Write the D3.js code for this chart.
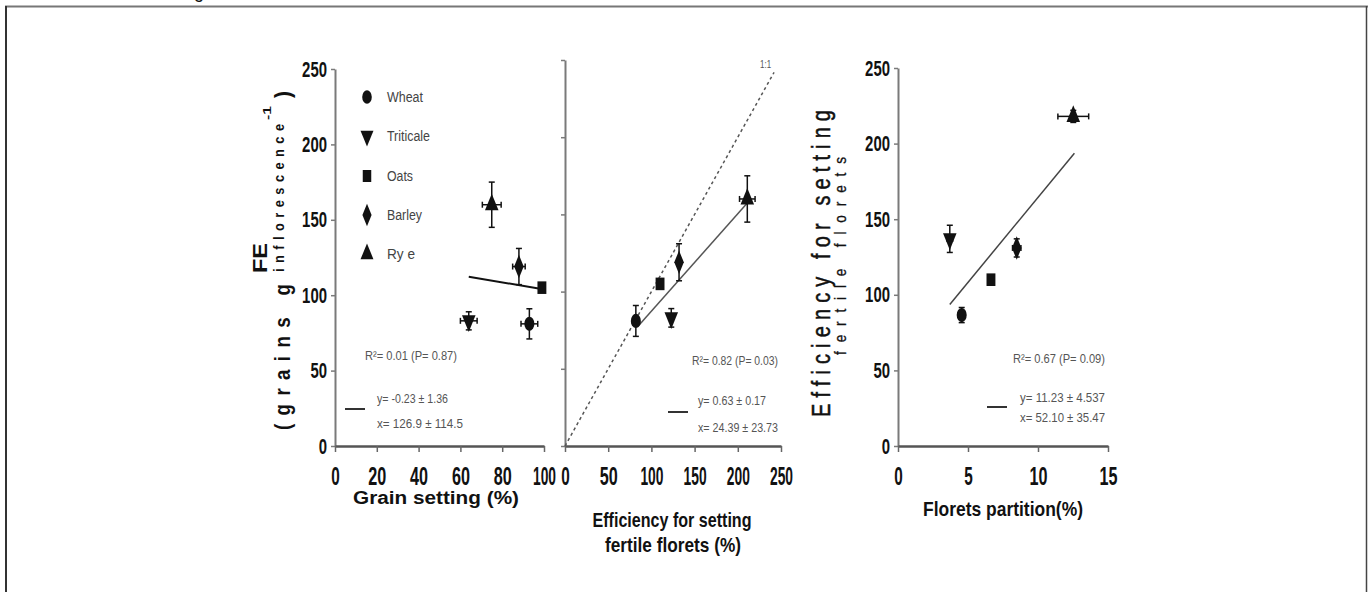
<!DOCTYPE html>
<html><head><meta charset="utf-8">
<script src="https://cdn.jsdelivr.net/npm/d3@7"></script>
<style>
html,body{margin:0;padding:0;background:#fff;}
svg{display:block;}
text{font-family:"Liberation Sans Narrow","Liberation Sans",Arial,sans-serif;}
</style></head><body>
<svg id="chart" width="1368" height="592"></svg>
<script>
// ---- data ----
const species = ["Wheat", "Triticale", "Oats", "Barley", "Rye"];

// FE (grains g inflorescence^-1), shared by the first two panels
const fe = [81, 83, 105, 119, 160];
const feErr = [10, 6, 0, 12, 15];

// Grain setting (%)
const grainSetting = [93, 64, 99, 88, 75];
const grainSettingErr = [4, 4, 0, 3, 4.5];

// Efficiency for setting fertile florets (%)
const efficiency = [82, 123, 110, 132, 211];
const efficiencyErr = [2, 2, 0, 2, 9];

// Florets partition (%) and efficiency for setting fertile florets
const floretsPartition = [4.55, 3.7, 6.64, 8.48, 12.52];
const floretsPartitionErr = [0.25, 0.2, 0, 0.3, 1.1];
const efficiencyB = [86.6, 137, 110, 131, 218];
const efficiencyBErr = [5, 9, 0, 6, 4];

// linear regressions, one per panel
const fitSlope = ["-0.23", "0.63", "11.23"];
const fitSlopeErr = ["1.36", "0.17", "4.537"];
const fitIntercept = ["126.9", "24.39", "52.10"];
const fitInterceptErr = ["114.5", "23.73", "35.47"];
const fitR2 = ["0.01", "0.82", "0.67"];
const fitP = ["0.87", "0.03", "0.09"];
const fitRange = [[64, 99.5], [84, 211], [3.7, 12.6]];

// axis ticks
const ticksY = [0, 50, 100, 150, 200, 250];
const ticksX1 = [0, 20, 40, 60, 80, 100];
const ticksX2 = [0, 50, 100, 150, 200, 250];
const ticksX3 = [0, 5, 10, 15];

// ---- drawing ----
const svg = d3.select("#chart");
const INK = "#111";

const symbolTypes = {
  Wheat: {type: d3.symbolCircle, rot: 0},
  Triticale: {type: d3.symbolTriangle, rot: 180},
  Oats: {type: d3.symbolSquare, rot: 0},
  Barley: {type: d3.symbolDiamond, rot: 0},
  Rye: {type: d3.symbolTriangle, rot: 0}
};

// text helper: optional rotation, horizontal condensing (sx) and fitted length
function txt(g, o) {
  const sx = o.sx || 1;
  const t = g.append("text")
    .attr("transform", `translate(${o.x},${o.y})` + (o.rotate ? ` rotate(${o.rotate})` : "") + (sx !== 1 ? ` scale(${sx},1)` : ""))
    .attr("text-anchor", o.anchor || "start")
    .attr("font-size", o.size)
    .attr("font-weight", o.weight || "normal")
    .attr("fill", o.fill || INK)
    .text(o.text);
  if (o.stroke) t.attr("stroke", o.fill || INK).attr("stroke-width", o.stroke);
  if (o.len) t.attr("textLength", o.len / sx).attr("lengthAdjust", o.adjust || "spacingAndGlyphs");
  return t;
}

function marker(g, name, cx, cy, size) {
  const s = symbolTypes[name];
  g.append("path")
    .attr("d", d3.symbol().type(s.type).size(size)())
    .attr("transform", `translate(${cx},${cy}) scale(0.85,1.2) rotate(${s.rot})`)
    .attr("fill", INK);
}

function drawPanel(p, i) {
  const g = svg.append("g");
  const {x, y} = p;

  // y axis
  const ya = g.append("g").attr("transform", `translate(${x.range()[0]},0)`)
    .call(d3.axisLeft(y).tickValues(ticksY).tickSize(4).tickSizeOuter(0).tickPadding(4)
      .tickFormat(p.yLabels ? d3.format("d") : () => ""));
  ya.attr("font-family", null).attr("font-size", null);
  ya.select(".domain").attr("stroke", "#7a7a7a").attr("stroke-width", 2);
  ya.selectAll(".tick line").attr("stroke", "#7a7a7a").attr("stroke-width", 1.5);
  ya.selectAll(".tick text").attr("font-size", 22).attr("font-weight", "bold").attr("fill", INK)
    .each(function(d) {
      const s = String(d);
      if (p.yLabels) d3.select(this).attr("textLength", s.length * 8.3).attr("lengthAdjust", "spacingAndGlyphs");
    });

  // x axis
  const xa = g.append("g").attr("transform", `translate(0,${y(0)})`)
    .call(d3.axisBottom(x).tickValues(p.ticksX).tickSize(6).tickSizeOuter(0).tickPadding(15));
  xa.attr("font-family", null).attr("font-size", null);
  xa.select(".domain").attr("stroke", "#555").attr("stroke-width", 2.5);
  xa.selectAll(".tick line").attr("stroke", "#666").attr("stroke-width", 1.5);
  xa.selectAll(".tick text").attr("font-size", 25).attr("font-weight", "bold").attr("fill", INK)
    .each(function(d) {
      const s = String(d);
      d3.select(this).attr("textLength", s.length === 1 ? 8.5 : s.length === 2 ? 18 : 23)
        .attr("lengthAdjust", "spacingAndGlyphs");
    });

  // reference line
  if (p.identity) {
    g.append("line")
      .attr("x1", x(0)).attr("y1", y(0)).attr("x2", x(p.identity)).attr("y2", y(p.identity))
      .attr("stroke", "#555").attr("stroke-width", 1.5).attr("stroke-dasharray", "3,3");
    txt(g, {x: x(p.identity) - 14, y: y(p.identity) - 4, text: "1:1", size: 11, fill: "#555", len: 11});
  }

  // regression line
  const slope = +fitSlope[i], icpt = +fitIntercept[i];
  const [fx0, fx1] = fitRange[i];
  g.append("line")
    .attr("x1", x(fx0)).attr("y1", y(slope * fx0 + icpt))
    .attr("x2", x(fx1)).attr("y2", y(slope * fx1 + icpt))
    .attr("stroke", p.fitColor).attr("stroke-width", p.fitWidth);

  // error bars + markers
  species.forEach((name, k) => {
    const vx = p.xs[k], vy = p.ys[k], ex = p.xe[k], ey = p.ye[k];
    const cx = x(vx), cy = y(vy);
    const eb = g.append("g").attr("stroke", INK).attr("stroke-width", 1.5);
    if (ey > 0) {
      eb.append("line").attr("x1", cx).attr("x2", cx).attr("y1", y(vy - ey)).attr("y2", y(vy + ey));
      [vy - ey, vy + ey].forEach(v => eb.append("line").attr("x1", cx - 3).attr("x2", cx + 3).attr("y1", y(v)).attr("y2", y(v)));
    }
    if (ex > 0) {
      eb.append("line").attr("y1", cy).attr("y2", cy).attr("x1", x(vx - ex)).attr("x2", x(vx + ex));
      [vx - ex, vx + ex].forEach(v => eb.append("line").attr("y1", cy - 3).attr("y2", cy + 3).attr("x1", x(v)).attr("x2", x(v)));
    }
    marker(g, name, cx, cy, 110);
  });

  // regression statistics
  const a = p.stats;
  txt(g, {x: a.x, y: a.y, text: `R\u00b2= ${fitR2[i]} (P= ${fitP[i]})`, size: 13, fill: "#555", len: a.w0});
  g.append("line").attr("x1", a.lx).attr("x2", a.lx + 20).attr("y1", a.ly).attr("y2", a.ly)
    .attr("stroke", "#333").attr("stroke-width", 2);
  txt(g, {x: a.ex, y: a.y1, text: `y= ${fitSlope[i]} \u00b1 ${fitSlopeErr[i]}`, size: 13, fill: "#555", len: a.w1});
  txt(g, {x: a.ex, y: a.y2, text: `x= ${fitIntercept[i]} \u00b1 ${fitInterceptErr[i]}`, size: 13, fill: "#555", len: a.w2});
  return g;
}

const panels = [
  {
    x: d3.scaleLinear([0, 100], [335, 544]), y: d3.scaleLinear([0, 250], [446, 69]),
    xs: grainSetting, xe: grainSettingErr, ys: fe, ye: feErr,
    ticksX: ticksX1, yLabels: true, fitColor: "#111", fitWidth: 2,
    stats: {x: 365, y: 360, w0: 92, lx: 345, ly: 409, ex: 377, y1: 403, y2: 428, w1: 71, w2: 86}
  },
  {
    x: d3.scaleLinear([0, 250], [565, 781]), y: d3.scaleLinear([0, 250], [446, 60]),
    xs: efficiency, xe: efficiencyErr, ys: fe, ye: feErr,
    ticksX: ticksX2, yLabels: false, identity: 242, fitColor: "#555", fitWidth: 1.5,
    stats: {x: 692, y: 365, w0: 86, lx: 668, ly: 412, ex: 698, y1: 405, y2: 432, w1: 68, w2: 80}
  },
  {
    x: d3.scaleLinear([0, 15], [898, 1108]), y: d3.scaleLinear([0, 250], [446, 68]),
    xs: floretsPartition, xe: floretsPartitionErr, ys: efficiencyB, ye: efficiencyBErr,
    ticksX: ticksX3, yLabels: true, fitColor: "#444", fitWidth: 1.5,
    stats: {x: 1013, y: 363, w0: 92, lx: 987, ly: 407, ex: 1020, y1: 402, y2: 422, w1: 85, w2: 85}
  }
];
panels.forEach(drawPanel);

// legend (first panel)
const legend = svg.append("g");
const legendRowY = [97, 136, 176, 215, 254];
const legendW = [36, 43, 26, 35, 28];
const legendText = ["Wheat", "Triticale", "Oats", "Barley", "Ry e"];
species.forEach((name, k) => {
  marker(legend, name, 367, legendRowY[k], 100);
  txt(legend, {x: 387, y: legendRowY[k] + 5, text: legendText[k], size: 14, fill: "#444", len: legendW[k]});
});

// axis titles
const titles = svg.append("g");
txt(titles, {x: 436, y: 504, text: "Grain setting (%)", size: 18, weight: "bold", anchor: "middle", len: 166});
txt(titles, {x: 672, y: 527, text: "Efficiency for setting", size: 21, weight: "bold", anchor: "middle", len: 159});
txt(titles, {x: 673, y: 552, text: "fertile florets (%)", size: 21, weight: "bold", anchor: "middle", len: 136});
txt(titles, {x: 1003, y: 516, text: "Florets partition(%)", size: 21, weight: "bold", anchor: "middle", len: 160});

// first panel y title
txt(titles, {x: 267, y: 258, text: "FE", size: 21, weight: "bold", anchor: "middle", rotate: -90, len: 30});
txt(titles, {x: 290, y: 430, text: "(grains g", size: 22, weight: "bold", rotate: -90, len: 146, sx: 0.85, adjust: "spacing"});
txt(titles, {x: 284, y: 272, text: "inflorescence", size: 15, weight: "bold", rotate: -90, len: 148, sx: 0.85, adjust: "spacing"});
txt(titles, {x: 271, y: 120, text: "-1", size: 11, weight: "bold", rotate: -90, len: 14});
txt(titles, {x: 290, y: 98, text: ")", size: 22, weight: "bold", rotate: -90, len: 7});

// third panel y title
txt(titles, {x: 830, y: 417, text: "Efficiency for setting", size: 25, rotate: -90, len: 307, sx: 0.8, adjust: "spacing", stroke: 0.5});
txt(titles, {x: 846, y: 355, text: "fertile florets", size: 17, rotate: -90, len: 198, sx: 0.8, adjust: "spacing", stroke: 0.3});

// frame
const frame = svg.append("g");
frame.append("line").attr("x1", 5).attr("x2", 1368).attr("y1", 6.5).attr("y2", 6.5).attr("stroke", "#777").attr("stroke-width", 2);
frame.append("line").attr("x1", 6).attr("x2", 6).attr("y1", 6).attr("y2", 592).attr("stroke", "#333").attr("stroke-width", 2);
frame.append("line").attr("x1", 1366.5).attr("x2", 1366.5).attr("y1", 6).attr("y2", 592).attr("stroke", "#444").attr("stroke-width", 1.5);
txt(frame, {x: 194, y: -2, text: "g", size: 18});
</script>
</body></html>
